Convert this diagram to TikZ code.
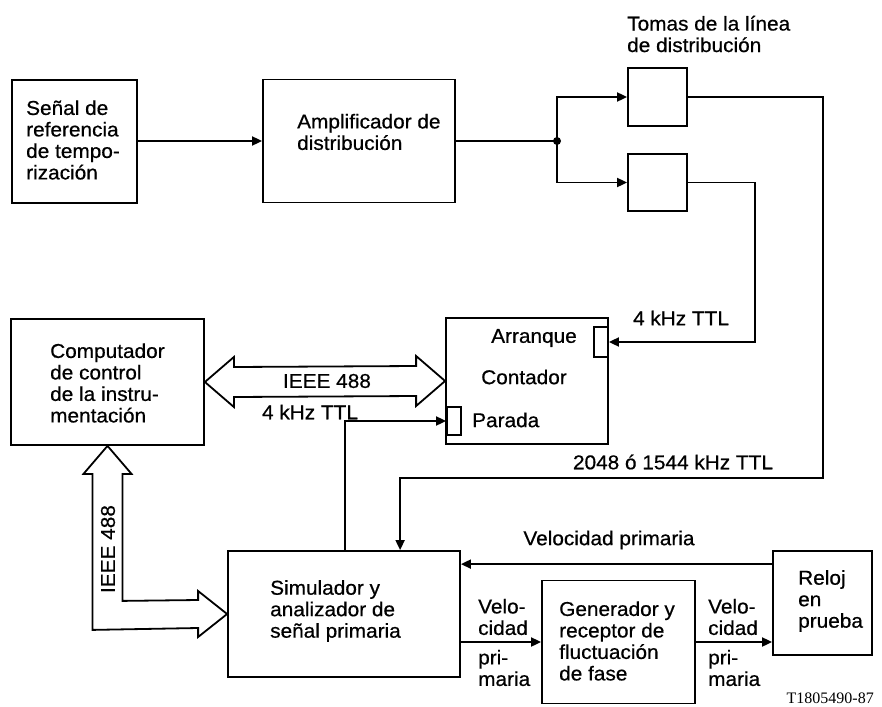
\documentclass[tikz,border=0pt]{standalone}
\usepackage{fontspec}
\setmainfont{Liberation Sans}[FakeStretch=1.04,FakeBold=0.6]
\newfontfamily\labelserif{Liberation Serif}
\usetikzlibrary{arrows.meta,calc}
\tikzset{
  box/.style={draw, line width=1.8pt, inner sep=0pt, minimum width=#1},
  txt/.style={inner sep=0pt, align=left, font=\fontsize{20}{21.5}\selectfont},
  arr/.style={line width=1.8pt, -{Triangle[length=10pt,width=9pt]}},
  ln/.style={line width=1.8pt},
  fat/.style={line width=1.8pt, line join=miter}
}
\begin{document}
\begin{tikzpicture}[x=1pt,y=-1pt]
\useasboundingbox (0,0) rectangle (882,706);
% boxes
\node[box=125pt, minimum height=123pt] (sen) at (74.5,141.5) {};
\node[box=192pt, minimum height=123pt] (amp) at (359,141) {};
\node[box=59pt, minimum height=58pt] (tapA) at (657.5,97) {};
\node[box=59pt, minimum height=57pt] (tapB) at (657.5,182.5) {};
\node[box=193pt, minimum height=126pt] (comp) at (107.5,382) {};
\node[box=162pt, minimum height=126pt] (cnt) at (527,381) {};
\node[box=14pt, minimum height=30pt] (arrP) at (601,342) {};
\node[box=14pt, minimum height=28pt] (parP) at (454,421) {};
\node[box=232pt, minimum height=126pt] (sim) at (344,614) {};
\node[box=153pt, minimum height=123pt] (gen) at (618.5,642) {};
\node[box=99pt, minimum height=104pt] (rel) at (822.5,603) {};
\coordinate (j) at (557,141);

% texts
\node[txt, anchor=west] (tTomas) at (627,34) {Tomas de la línea\\de distribución};
\node[txt, anchor=west] (tSen) at (26,140) {Señal de\\referencia\\de tempo-\\rización};
\node[txt, anchor=west] (tAmp) at (297,132) {Amplificador de\\distribución};
\node[txt, anchor=west] (tComp) at (50,383) {Computador\\de control\\de la instru-\\mentación};
\node[txt] (tIEEEh) at (327,381) {IEEE 488};
\node[txt] (tTTLa) at (310,412) {4 kHz TTL};
\node[txt] (tTTLb) at (681,318) {4 kHz TTL};
\node[txt] (tArr) at (534,338) {Arranque};
\node[txt] (tCnt) at (524,377) {Contador};
\node[txt, anchor=west] (tPar) at (472,420) {Parada};
\node[txt] (t2048) at (673,462) {2048 ó 1544 kHz TTL};
\node[txt] (tVel) at (609,540) {Velocidad primaria};
\node[txt, anchor=west] (tSim) at (270,611) {Simulador y\\analizador de\\señal primaria};
\node[txt, anchor=west] (tV1a) at (478,617) {Velo-\\cidad};
\node[txt, anchor=west] (tV1b) at (478,668) {pri-\\maria};
\node[txt, anchor=west] (tV2a) at (708,617) {Velo-\\cidad};
\node[txt, anchor=west] (tV2b) at (708,668) {pri-\\maria};
\node[txt, anchor=west] (tGen) at (559,641) {Generador y\\receptor de\\fluctuación\\de fase};
\node[txt, anchor=west] (tRel) at (798,601) {Reloj\\en\\prueba};
\node[inner sep=0pt, anchor=east, font=\labelserif\fontsize{16}{18}\selectfont] (tId) at (874,698) {T1805490-87};

% connectors
\draw[arr] (sen.east |- amp.west) -- (amp.west);
\draw[ln] (amp.east) -- (j);
\fill (j) circle (4pt);
\draw[arr] (j) |- (tapA.west);
\draw[arr] (j) |- (tapB.west);
\draw[arr] (tapA.east) -- ++(135,0) -- ++(0,381) -| ($(sim.north west)+(173,0)$);
\draw[arr] (tapB.east) -- ++(67,0) |- (arrP.east);
\draw[arr] ($(sim.north west)+(118,0)$) |- (parP.west);
\draw[arr] ($(rel.north west)+(0,14)$) -- ($(sim.north east)+(0,14)$);
\draw[arr] (gen.west -| sim.east) -- (gen.west);
\draw[arr] (gen.east) -- (gen.east -| rel.west);

% IEEE 488 fat double arrow
\draw[fat] (comp.east) -- ++(29,-25) -- ++(0,10) -- ($(cnt.west)+(-29,-15)$) -- ++(0,-10)
  -- (cnt.west) -- ++(-29,25) -- ++(0,-10) -- ($(comp.east)+(29,15)$) -- ++(0,10) -- cycle;
% IEEE 488 fat L arrow
\draw[fat] (comp.south) -- ++(24,28) -- ++(-9,0) -- ++(0,127) -- ($(sim.west)+(-29,-14)$)
  -- ++(0,-9) -- (sim.west) -- ++(-29,23) -- ++(0,-9) -- ($(comp.south)+(-15,184)$)
  -- ++(0,-156) -- ++(-9,0) -- cycle;
\node[txt, rotate=90] (tIEEEv) at (108,549) {IEEE 488};
\end{tikzpicture}
\end{document}
